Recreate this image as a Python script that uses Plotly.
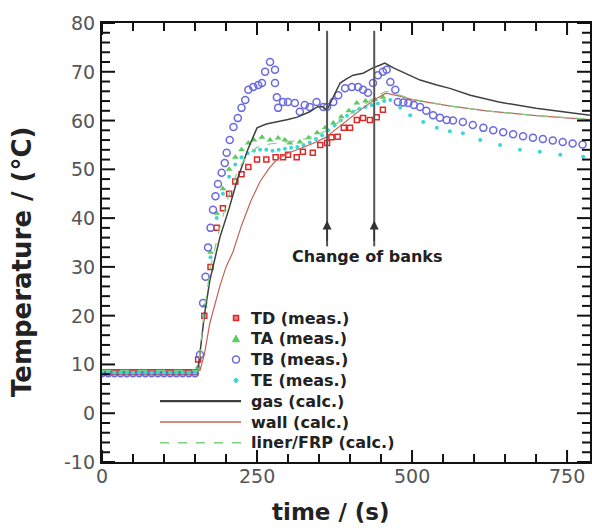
import plotly.graph_objects as go

# ---------------- data ----------------
flat_t = [0, 10, 20, 30, 40, 50, 60, 70, 80, 90, 100, 110, 120, 130, 140, 150]

td_t = flat_t + [155, 165, 175, 185, 195, 205, 215, 225, 236, 250, 265, 280, 292, 300, 314, 324,
                 340, 352, 363, 370, 380, 390, 400, 411, 421, 432, 443, 453]
td_v = [8.4] * 16 + [11, 20, 30, 38, 42, 45, 47.5, 49, 50.5, 52, 52, 52.5, 52.5, 53, 52.5, 53.6,
                     53.4, 55, 55.4, 56.6, 56.7, 58.5, 58.5, 60.1, 60.5, 60.1, 60.7, 62.2]

ta_t = flat_t + [155, 165, 175, 185, 195, 205, 215, 225, 236, 245, 258, 271, 284, 295, 303, 319,
                 333, 347, 360, 373, 386, 398, 411, 425, 440, 453]
ta_v = [8.5] * 16 + [9.5, 22, 33, 41, 46, 50, 52.5, 54, 55.4, 56, 56.6, 56, 56.4, 56, 55.4, 55.6,
                     56.5, 57.5, 58.5, 59.5, 60.8, 62, 63.6, 64, 64.3, 64.8]

tb_t = flat_t + [158, 163, 167, 171, 175, 179, 183, 187, 193, 198, 201, 206, 212, 219, 225, 231,
                 236, 244, 252, 258, 263, 271, 279, 279, 282, 284, 292, 300, 311, 319, 327, 335,
                 346, 357, 363, 373, 381, 392, 403, 413, 421, 429, 437, 445, 453, 459, 465, 473,
                 477, 486, 494, 503, 513, 523, 534, 545, 556, 566, 582, 598, 615, 631, 647, 663,
                 679, 695, 711, 727, 743, 759, 775]
tb_v = [8.2] * 16 + [12, 22.6, 28, 34, 38, 41.7, 44.5, 47, 49.3, 51.3, 53.4, 56, 58.7, 60.5, 62.6, 64.2,
                     66.3, 66.9, 67.3, 67.7, 70, 72, 70.4, 67.7, 64.8, 62.6, 63.8, 63.8, 63.6, 61.8, 63.2, 62.8,
                     63.8, 62.8, 62.8, 63.8, 65.2, 66.6, 66.9, 66.9, 66.3, 65.7, 67.7, 69.3, 70, 70.4, 67.9, 66.3,
                     63.8, 63.7, 63.6, 63.2, 62.8, 62, 61.1, 60.6, 60.1, 60, 59.7, 59.1, 58.5, 58, 57.6, 57.2,
                     56.8, 56.5, 56.2, 55.9, 55.6, 55.3, 55.1]

te_t = flat_t + [155, 165, 175, 185, 195, 205, 215, 225, 235, 245, 255, 265, 275, 285, 295, 305,
                 315, 325, 335, 345, 355, 365, 375, 385, 395, 405, 415, 425, 435, 445, 455,
                 465, 481, 497, 518, 540, 561, 582, 610, 642, 674, 706, 739, 776]
te_v = [8.3] * 16 + [9, 20, 32, 40, 45, 48.5, 51, 52.5, 53.3, 53.8, 54, 54, 53.8, 54, 54.2, 54.4,
                     54.6, 55, 55.5, 56.2, 57, 58, 59, 60, 61, 61.8, 62.4, 62.8, 63.2, 63.5, 64,
                     64.2, 62.6, 61.1, 59.7, 58.5, 57.8, 57.4, 56, 55, 54, 53.6, 53, 52.6]

gas_t = [0, 150, 155, 165, 174, 190, 205, 218, 235, 250, 265, 282, 300, 315, 335, 347, 355, 363,
         372, 384, 395, 405, 421, 437, 447, 456, 470, 490, 513, 540, 561, 594, 640, 700, 787]
gas_v = [8.8, 8.8, 9, 20, 27.3, 36, 42, 47.8, 54, 58.5, 59.3, 59.7, 60.2, 60.7, 61.8, 62.8, 62.9, 62.2,
         64.5, 67.7, 68.6, 69.3, 69.7, 70.8, 71.3, 71.8, 70.8, 69.6, 68.3, 67.3, 66.6, 65.2, 63.8, 62.5, 61.1]

wall_t = [0, 158, 165, 174, 190, 200, 211, 225, 240, 255, 270, 282, 300, 320, 340, 360, 380, 400,
          420, 440, 458, 480, 500, 560, 620, 700, 787]
wall_v = [8.8, 8.8, 12, 18.5, 26, 30, 33, 38.5, 43.5, 47.5, 50.3, 52, 53.3, 54.3, 55.3, 56.5, 58.5, 60.5,
          62.5, 64.3, 65.6, 65, 64.3, 63, 62, 61, 60.2]

liner_t = [0, 155, 165, 175, 190, 205, 220, 235, 250, 270, 300, 330, 360, 380, 400, 420, 440, 458,
           480, 500, 560, 620, 700, 787]
liner_v = [8.8, 8.8, 21, 30, 38, 45, 50, 53, 54.5, 55.2, 55.6, 56.3, 57.8, 59.5, 61.2, 63, 64.8, 66,
           65.2, 64.4, 63, 62, 61, 60.3]

bank_changes = [363, 439]

x_tickvals = [0, 250, 500, 750]
x_ticktext = ["0", "250", "500", "750"]
y_tickvals = [-10, 0, 10, 20, 30, 40, 50, 60, 70, 80]
y_ticktext = ["-10", "0", "10", "20", "30", "40", "50", "60", "70", "80"]
x_minor_step = 50
y_minor_step = 2

legend_labels = ["TD (meas.)", "TA (meas.)", "TB (meas.)", "TE (meas.)",
                 "gas (calc.)", "wall (calc.)", "liner/FRP (calc.)"]

# ---------------- styles ----------------
C_TD, C_TA, C_TB, C_TE = "#e02828", "#5cc95c", "#6a6ae0", "#3cd6d6"
C_GAS, C_WALL, C_LINER = "#404040", "#c0645a", "#7ed07e"

W, H = 592, 528
ML, MR, MT, MB = 102, 2, 23, 66
PW, PH = W - ML - MR, H - MT - MB
X_RANGE = [0, 787]
Y_RANGE = [-10, 80]


def px(xp):
    return (xp - ML) / PW


def py(yp):
    return (H - MB - yp) / PH


fig = go.Figure()

fig.add_trace(go.Scatter(x=td_t, y=td_v, mode="markers", name=legend_labels[0],
                         marker=dict(symbol="square-open", size=5, color=C_TD, line=dict(width=1.5))))
fig.add_trace(go.Scatter(x=ta_t, y=ta_v, mode="markers", name=legend_labels[1],
                         marker=dict(symbol="triangle-up", size=6, color=C_TA)))
fig.add_trace(go.Scatter(x=tb_t, y=tb_v, mode="markers", name=legend_labels[2],
                         marker=dict(symbol="circle-open", size=7, color=C_TB, line=dict(width=1.5))))
fig.add_trace(go.Scatter(x=te_t, y=te_v, mode="markers", name=legend_labels[3],
                         marker=dict(symbol="circle", size=4, color=C_TE)))
fig.add_trace(go.Scatter(x=gas_t, y=gas_v, mode="lines", name=legend_labels[4],
                         line=dict(color=C_GAS, width=1.5)))
fig.add_trace(go.Scatter(x=wall_t, y=wall_v, mode="lines", name=legend_labels[5],
                         line=dict(color=C_WALL, width=1.2)))
fig.add_trace(go.Scatter(x=liner_t, y=liner_v, mode="lines", name=legend_labels[6],
                         line=dict(color=C_LINER, width=1.2, dash="dash")))

# ---------------- tick marks (inside, all four sides) ----------------
tcol = "#111111"
x_minor = [v for v in range(0, X_RANGE[1] + 1, x_minor_step) if v not in x_tickvals]
y_minor = [v for v in range(Y_RANGE[0], Y_RANGE[1] + 1, y_minor_step) if v not in y_tickvals]
for vals, ln in ((x_tickvals, 12), (x_minor, 8)):
    for v in vals:
        for anchor, sign in ((Y_RANGE[0], 1), (Y_RANGE[1], -1)):
            fig.add_shape(type="line", xref="x", yref="y", x0=v, x1=v, ysizemode="pixel", yanchor=anchor,
                          y0=0, y1=sign * ln, opacity=1, line=dict(color=tcol, width=2))
for vals, ln in ((y_tickvals, 13), (y_minor, 8)):
    for v in vals:
        for anchor, sign in ((X_RANGE[0], 1), (X_RANGE[1], -1)):
            fig.add_shape(type="line", xref="x", yref="y", y0=v, y1=v, xsizemode="pixel", xanchor=anchor,
                          x0=0, x1=sign * ln, opacity=1, line=dict(color=tcol, width=2))

# ---------------- manual legend ----------------
leg_font = dict(family="DejaVu Sans", size=16, color="#222222")
row_y = [318 + 20.8 * i for i in range(7)]
for lab, yy in zip(legend_labels, row_y):
    fig.add_annotation(x=px(249), y=py(yy), xref="paper", yref="paper", text="<b>%s</b>" % lab,
                       showarrow=False, xanchor="left", yanchor="middle", font=leg_font)
mx = 236
s = 2.5
fig.add_shape(type="rect", xref="paper", yref="paper", x0=px(mx - s), x1=px(mx + s), opacity=1,
              y0=py(row_y[0] - s), y1=py(row_y[0] + s), line=dict(color=C_TD, width=1.5), fillcolor="#f08080")
fig.add_shape(type="path", xref="paper", yref="paper", opacity=1,
              path="M %f %f L %f %f L %f %f Z" % (px(mx - 3.5), py(row_y[1] + 3), px(mx + 3.5), py(row_y[1] + 3),
                                                 px(mx), py(row_y[1] - 3.5)),
              line=dict(color=C_TA, width=1), fillcolor=C_TA)
fig.add_shape(type="circle", xref="paper", yref="paper", x0=px(mx - 3.5), x1=px(mx + 3.5), opacity=1,
              y0=py(row_y[2] - 3.5), y1=py(row_y[2] + 3.5), line=dict(color=C_TB, width=1.5),
              fillcolor="rgba(0,0,0,0)")
fig.add_shape(type="circle", xref="paper", yref="paper", x0=px(mx - 2), x1=px(mx + 2), opacity=1,
              y0=py(row_y[3] - 2), y1=py(row_y[3] + 2), line=dict(color=C_TE, width=1), fillcolor=C_TE)
for yy, col, dash, wd in zip(row_y[4:], [C_GAS, C_WALL, C_LINER], ["solid", "solid", "dash"], [2.2, 1.5, 1.5]):
    fig.add_shape(type="line", xref="paper", yref="paper", x0=px(160), x1=px(241), y0=py(yy), y1=py(yy),
                  opacity=1, line=dict(color=col, width=wd, dash=dash))

# ---------------- change-of-banks markers ----------------
for xb in bank_changes:
    fig.add_shape(type="line", x0=xb, x1=xb, y0=34.2, y1=78.4, xref="x", yref="y", opacity=1,
                  line=dict(color="#555555", width=2))
    fig.add_annotation(x=xb, y=39.5, ax=xb, ay=35, xref="x", yref="y", axref="x", ayref="y",
                       text="", showarrow=True, arrowhead=2, arrowsize=1.2, arrowwidth=1.5,
                       arrowcolor="#333333")
fig.add_annotation(x=px(367), y=py(256), xref="paper", yref="paper", text="<b>Change of banks</b>",
                   xanchor="center", yanchor="middle",
                   showarrow=False, font=dict(family="DejaVu Sans", size=16, color="#222222"))

# ---------------- tick labels (as text) ----------------
tick_font = dict(family="DejaVu Sans", size=19, color="#555555")
for v, t in zip(x_tickvals, x_ticktext):
    fig.add_annotation(x=v, y=py(476), xref="x", yref="paper", text=t, showarrow=False,
                       xanchor="center", yanchor="middle", font=tick_font)
for v, t in zip(y_tickvals, y_ticktext):
    fig.add_annotation(x=px(97), y=v, xref="paper", yref="y", text=t, showarrow=False,
                       xanchor="right", yanchor="middle", font=tick_font)

# ---------------- axis titles ----------------
fig.add_annotation(x=px(331), y=py(512), xref="paper", yref="paper", text="<b>time / (s)</b>",
                   showarrow=False, xanchor="center", yanchor="middle",
                   font=dict(family="DejaVu Sans", size=23, color="#222222"))
fig.add_annotation(x=px(22), y=py(262), xref="paper", yref="paper", text="<b>Temperature / (°C)</b>",
                   showarrow=False, textangle=-90, xanchor="center", yanchor="middle",
                   font=dict(family="DejaVu Sans", size=26, color="#222222"))

fig.update_layout(
    template="none",
    width=W, height=H,
    margin=dict(l=ML, r=MR, t=MT, b=MB),
    paper_bgcolor="white", plot_bgcolor="white",
    showlegend=False,
    xaxis=dict(range=X_RANGE, ticks="", showline=True, linecolor=tcol, linewidth=2, mirror=True,
               showgrid=False, zeroline=False, showticklabels=False),
    yaxis=dict(range=Y_RANGE, ticks="", showline=True, linecolor=tcol, linewidth=2, mirror=True,
               showgrid=False, zeroline=False, showticklabels=False),
)

fig.write_html("out.html")
